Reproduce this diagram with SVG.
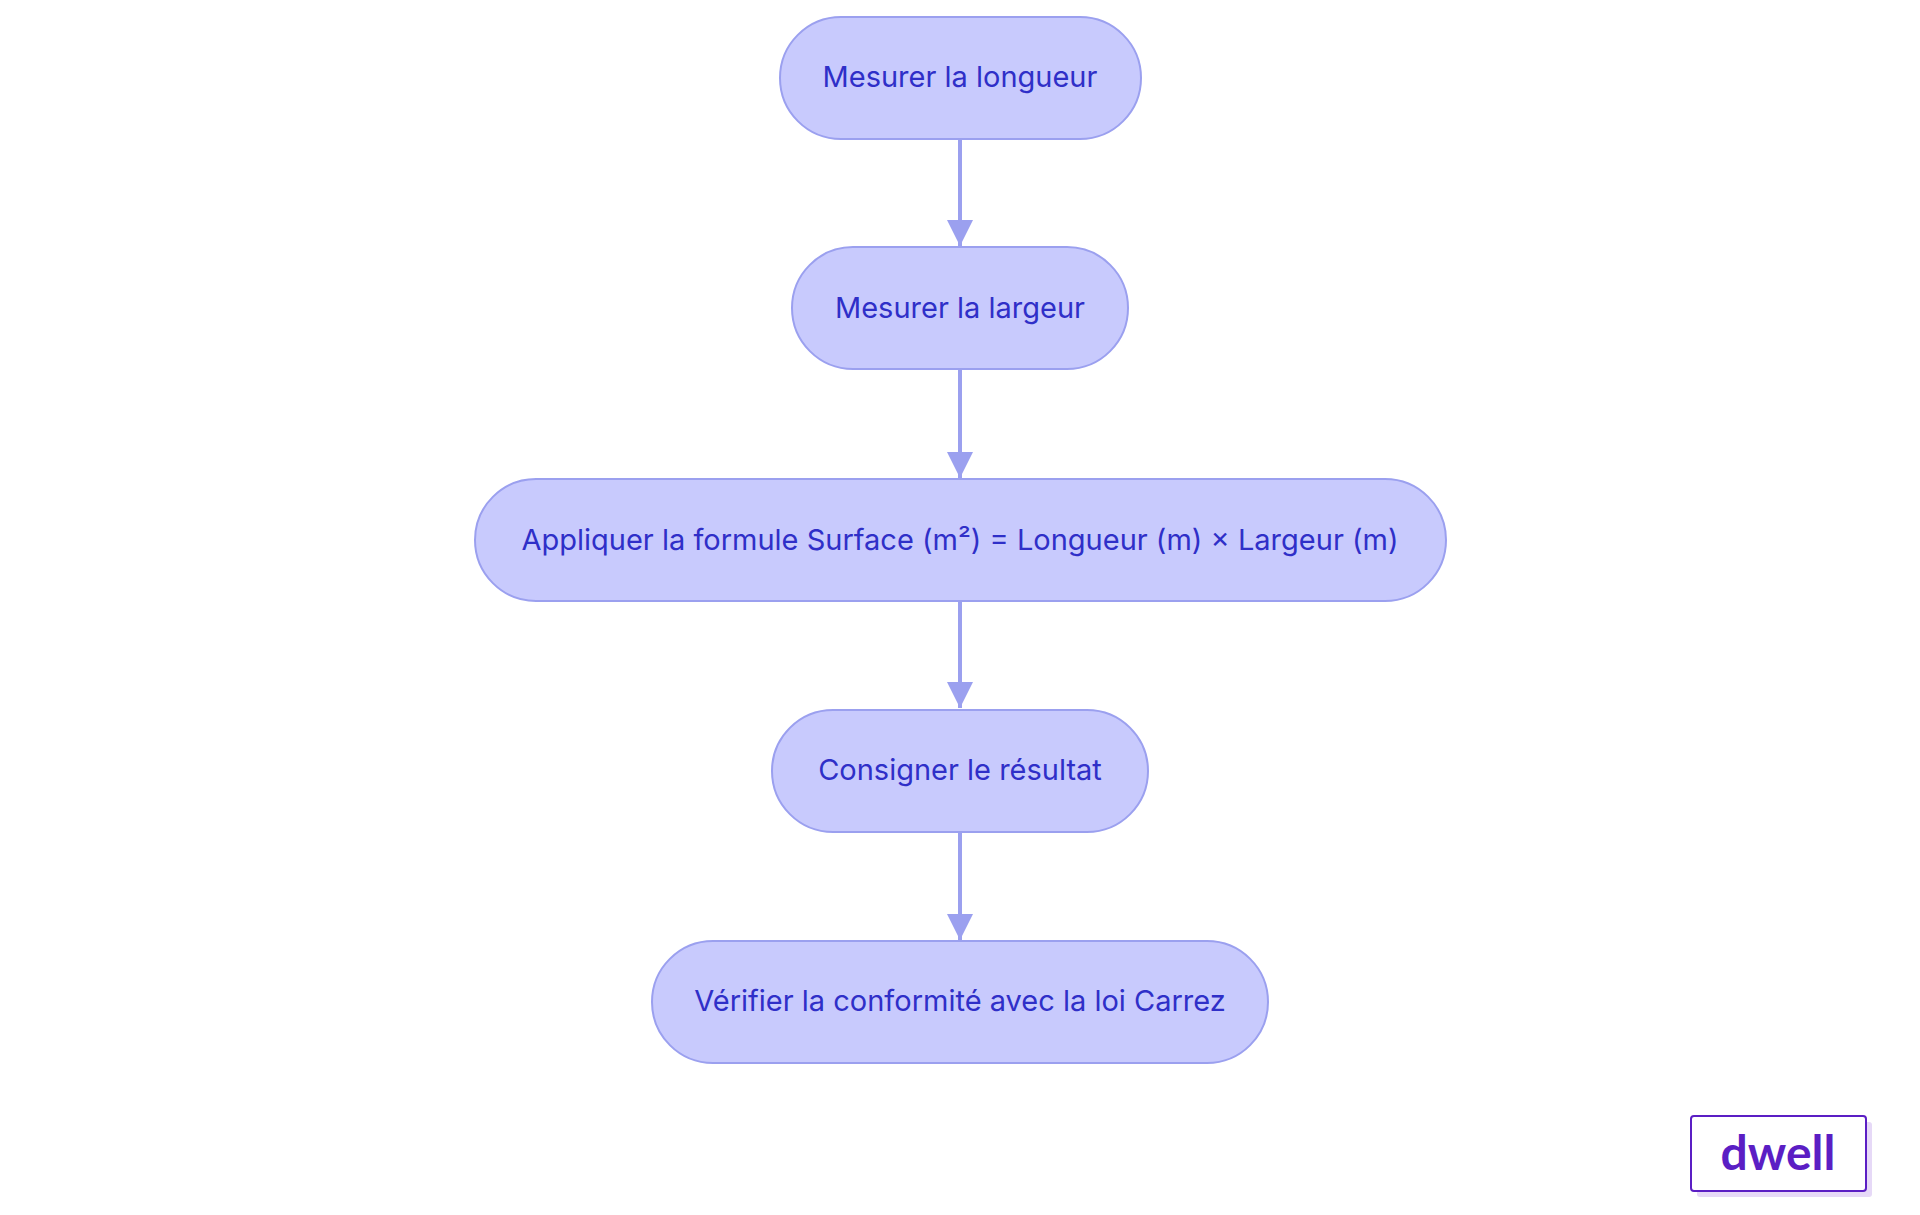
<svg xmlns="http://www.w3.org/2000/svg" width="1920" height="1215" viewBox="0 0 1920 1215">
<defs>
<style>
.n rect{fill:#c8cafd;stroke:#9ba0ef;stroke-width:2}
.n text{font-family:Inter,"Liberation Sans",sans-serif;font-size:29px;fill:#2f2fc8;text-anchor:middle;dominant-baseline:central}
.c line{stroke:#9ba0ef;stroke-width:4}
</style>
<marker id="a" viewBox="0 0 10 10" refX="10" refY="5" markerWidth="6.5" markerHeight="6.5" markerUnits="strokeWidth" orient="auto"><path d="M0,0L10,5L0,10z" fill="#9ba0ef"/></marker>
</defs>
<rect width="1920" height="1215" fill="#fff"/>
<g class="c">
<line x1="960" y1="139" x2="960" y2="246" marker-end="url(#a)"/>
<line x1="960" y1="370" x2="960" y2="478" marker-end="url(#a)"/>
<line x1="960" y1="601" x2="960" y2="708" marker-end="url(#a)"/>
<line x1="960" y1="833" x2="960" y2="940" marker-end="url(#a)"/>
</g>
<g id="n1" class="n"><rect x="780" y="17" width="361" height="122" rx="61"/><text x="960" y="76">Mesurer la longueur</text></g>
<g id="n2" class="n"><rect x="792" y="247" width="336" height="122" rx="61"/><text x="960" y="307">Mesurer la largeur</text></g>
<g id="n3" class="n"><rect x="475" y="479" width="971" height="122" rx="61"/><text x="960" y="539">Appliquer la formule Surface (m²) = Longueur (m) × Largeur (m)</text></g>
<g id="n4" class="n"><rect x="772" y="710" width="376" height="122" rx="61"/><text x="960" y="769">Consigner le résultat</text></g>
<g id="n5" class="n"><rect x="652" y="941" width="616" height="122" rx="61"/><text x="960" y="1000">Vérifier la conformité avec la loi Carrez</text></g>
<g id="logo">
<rect x="1697" y="1122" width="175" height="75" rx="3" fill="#e6d9f7"/>
<rect x="1691" y="1116" width="175" height="75" rx="3" fill="#fff" stroke="#5b1ec4" stroke-width="2"/>
<text x="1778" y="1170" font-family="Lato,'Liberation Sans',sans-serif" font-weight="bold" font-size="48" fill="#5b1ec4" text-anchor="middle">dwell</text>
</g>
</svg>
